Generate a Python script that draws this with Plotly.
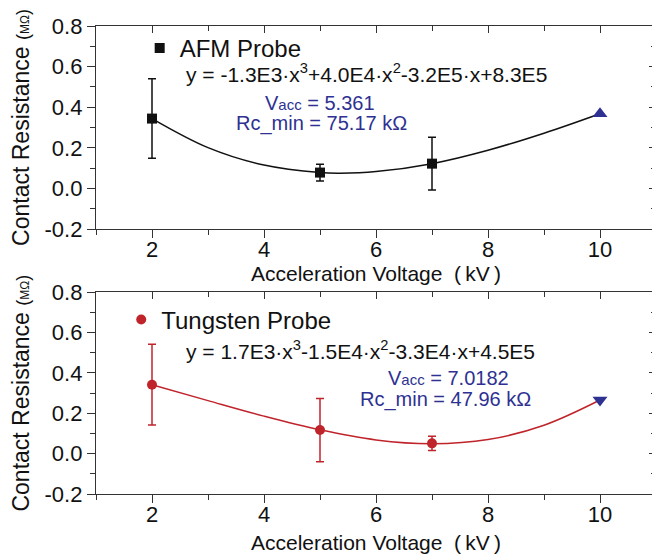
import plotly.graph_objects as go

# ---------------- data ----------------
afm_x = [2, 5, 7]
afm_y = [0.344, 0.078, 0.122]
afm_err = [0.196, 0.041, 0.130]
afm_pred_x = [10]
afm_pred_y = [0.368]
afm_fit_x = [2, 3, 4, 5, 5.36, 6, 7, 8, 9, 10]
afm_fit_y = [0.344, 0.201, 0.115, 0.078, 0.075, 0.083, 0.122, 0.188, 0.272, 0.368]

tung_x = [2, 5, 7]
tung_y = [0.342, 0.117, 0.051]
tung_err = [0.200, 0.157, 0.035]
tung_pred_x = [10]
tung_pred_y = [0.266]
tung_fit_x = [2, 3, 4, 5, 6, 7, 8, 9, 10]
tung_fit_y = [0.342, 0.263, 0.186, 0.118, 0.068, 0.049, 0.070, 0.141, 0.266]

x_ticks = [2, 4, 6, 8, 10]
y_ticks = [-0.2, 0.0, 0.2, 0.4, 0.6, 0.8]
y_ticktext = ["-0.2", "0.0", "0.2", "0.4", "0.6", "0.8"]

NB = "\u00a0"
x_title = "Acceleration Voltage" + NB * 2 + "(" + "\u2009" + "kV" + "\u2009" + ")"
y_title = ("Contact Resistance <span style='font-size:18px'>(</span>"
           "<span style='font-size:12px'>MΩ</span><span style='font-size:18px'>)</span>")

afm_eq = "y = -1.3E3·x<sup>3</sup>+4.0E4·x<sup>2</sup>-3.2E5·x+8.3E5"
afm_v = "V<span style='font-size:15px'>acc</span> = 5.361"
afm_rc = "Rc_min = 75.17 kΩ"
tung_eq = "y = 1.7E3·x<sup>3</sup>-1.5E4·x<sup>2</sup>-3.3E4·x+4.5E5"
tung_v = "V<span style='font-size:15px'>acc</span> = 7.0182"
tung_rc = "Rc_min = 47.96 kΩ"

# ---------------- style ----------------
FONT = "Liberation Sans, Arial, sans-serif"
BLACK = "#111111"
RED = "#C0242B"
BLUE = "#2E3192"
AX = "#333333"

fig = go.Figure()

# top panel
fig.add_trace(go.Scatter(x=afm_fit_x, y=afm_fit_y, mode="lines", line=dict(color=BLACK, width=1.5, shape="spline"),
                         showlegend=False, xaxis="x", yaxis="y"))
fig.add_trace(go.Scatter(x=afm_x, y=afm_y, mode="markers", name="AFM Probe",
                         marker=dict(symbol="square", size=10, color=BLACK),
                         error_y=dict(type="data", array=afm_err, color=BLACK, thickness=1.5, width=4),
                         xaxis="x", yaxis="y", legend="legend"))
fig.add_trace(go.Scatter(x=afm_pred_x, y=afm_pred_y, mode="markers", showlegend=False,
                         marker=dict(symbol="triangle-up", size=13, color=BLUE), xaxis="x", yaxis="y"))

# bottom panel
fig.add_trace(go.Scatter(x=tung_fit_x, y=tung_fit_y, mode="lines", line=dict(color=RED, width=1.5, shape="spline"),
                         showlegend=False, xaxis="x2", yaxis="y2"))
fig.add_trace(go.Scatter(x=tung_x, y=tung_y, mode="markers", name="Tungsten Probe",
                         marker=dict(symbol="circle", size=10, color=RED),
                         error_y=dict(type="data", array=tung_err, color=RED, thickness=1.5, width=4),
                         xaxis="x2", yaxis="y2", legend="legend2"))
fig.add_trace(go.Scatter(x=tung_pred_x, y=tung_pred_y, mode="markers", showlegend=False,
                         marker=dict(symbol="triangle-down", size=13, color=BLUE), xaxis="x2", yaxis="y2"))

# dummy traces for mirror (inward tick) axes
fig.add_trace(go.Scatter(x=[None], y=[None], showlegend=False, xaxis="x3", yaxis="y3", hoverinfo="skip"))
fig.add_trace(go.Scatter(x=[None], y=[None], showlegend=False, xaxis="x4", yaxis="y4", hoverinfo="skip"))

top_dom = [0.5662, 1.0]
bot_dom = [0.0, 0.431]
XR = [1, 11]
YR = [-0.2, 0.8]

def xmain(anchor, standoff):
    return dict(range=XR, domain=[0, 1], anchor=anchor, showgrid=False, zeroline=False, automargin=False,
                showline=True, linecolor=AX, linewidth=1.3,
                ticks="outside", ticklen=8, tickwidth=1.3, tickcolor=AX,
                tickvals=x_ticks, tickfont=dict(size=22, color="#111"), ticklabelstandoff=-8,
                minor=dict(dtick=1, tick0=1, ticks="outside", ticklen=5, tickwidth=1.3, tickcolor=AX),
                title=dict(text=x_title, font=dict(size=21, color="#111"), standoff=standoff))

def ymain(anchor, dom):
    return dict(range=YR, domain=dom, anchor=anchor, showgrid=False, zeroline=False, automargin=False,
                showline=True, linecolor=AX, linewidth=1.3,
                ticks="outside", ticklen=8, tickwidth=1.3, tickcolor=AX,
                tickvals=y_ticks, ticktext=y_ticktext, tickfont=dict(size=22, color="#111"),
                minor=dict(dtick=0.1, tick0=0, ticks="outside", ticklen=5, tickwidth=1.3, tickcolor=AX),
                title=dict(text=y_title, font=dict(size=23, color="#111"), standoff=8))

def xmirror(over, anchor):
    return dict(range=XR, domain=[0, 1], overlaying=over, anchor=anchor, side="top", automargin=False,
                showgrid=False, zeroline=False, showline=True, linecolor=AX, linewidth=1.3,
                ticks="inside", ticklen=7, tickwidth=1.3, tickcolor=AX, tickvals=x_ticks,
                showticklabels=False,
                minor=dict(dtick=1, tick0=1, ticks="inside", ticklen=5, tickwidth=1.3, tickcolor=AX))

def ymirror(over, anchor, dom):
    return dict(range=YR, domain=dom, overlaying=over, anchor=anchor, side="right", automargin=False,
                showgrid=False, zeroline=False, showline=True, linecolor=AX, linewidth=1.3,
                ticks="inside", ticklen=7, tickwidth=1.3, tickcolor=AX, tickvals=y_ticks,
                showticklabels=False,
                minor=dict(dtick=0.1, tick0=0, ticks="inside", ticklen=5, tickwidth=1.3, tickcolor=AX))

ann_common = dict(showarrow=False, xref="paper", yref="paper")
annotations = [
    dict(text=afm_eq, x=0.157, y=0.9006, xanchor="left", yanchor="middle",
         font=dict(size=21, color="#111", family=FONT), **ann_common),
    dict(text=afm_v, x=0.400, y=0.8355, xanchor="center", yanchor="middle",
         font=dict(size=20, color=BLUE, family=FONT), **ann_common),
    dict(text=afm_rc, x=0.402, y=0.7906, xanchor="center", yanchor="middle",
         font=dict(size=20, color=BLUE, family=FONT), **ann_common),
    dict(text=tung_eq, x=0.157, y=0.3087, xanchor="left", yanchor="middle",
         font=dict(size=21, color="#111", family=FONT), **ann_common),
    dict(text=tung_v, x=0.6286, y=0.2479, xanchor="center", yanchor="middle",
         font=dict(size=20, color=BLUE, family=FONT), **ann_common),
    dict(text=tung_rc, x=0.624, y=0.2009, xanchor="center", yanchor="middle",
         font=dict(size=20, color=BLUE, family=FONT), **ann_common),
]

fig.update_layout(
    width=652, height=552,
    margin=dict(l=88, r=4, t=18, b=66, autoexpand=False),
    paper_bgcolor="white", plot_bgcolor="white",
    font=dict(family=FONT, color="#111"),
    xaxis=xmain("y", 3), yaxis=ymain("x", top_dom),
    xaxis2=xmain("y2", 9), yaxis2=ymain("x2", bot_dom),
    xaxis3=xmirror("x", "y3"), yaxis3=ymirror("y", "x3", top_dom),
    xaxis4=xmirror("x2", "y4"), yaxis4=ymirror("y2", "x4", bot_dom),
    legend=dict(x=0.078, y=1.0, xanchor="left", yanchor="top", bgcolor="rgba(0,0,0,0)",
                font=dict(size=24, color="#111"), itemsizing="trace"),
    legend2=dict(x=0.045, y=0.42, xanchor="left", yanchor="top", bgcolor="rgba(0,0,0,0)",
                 font=dict(size=24, color="#111"), itemsizing="trace"),
    annotations=annotations,
)

fig.write_html("out.html")
